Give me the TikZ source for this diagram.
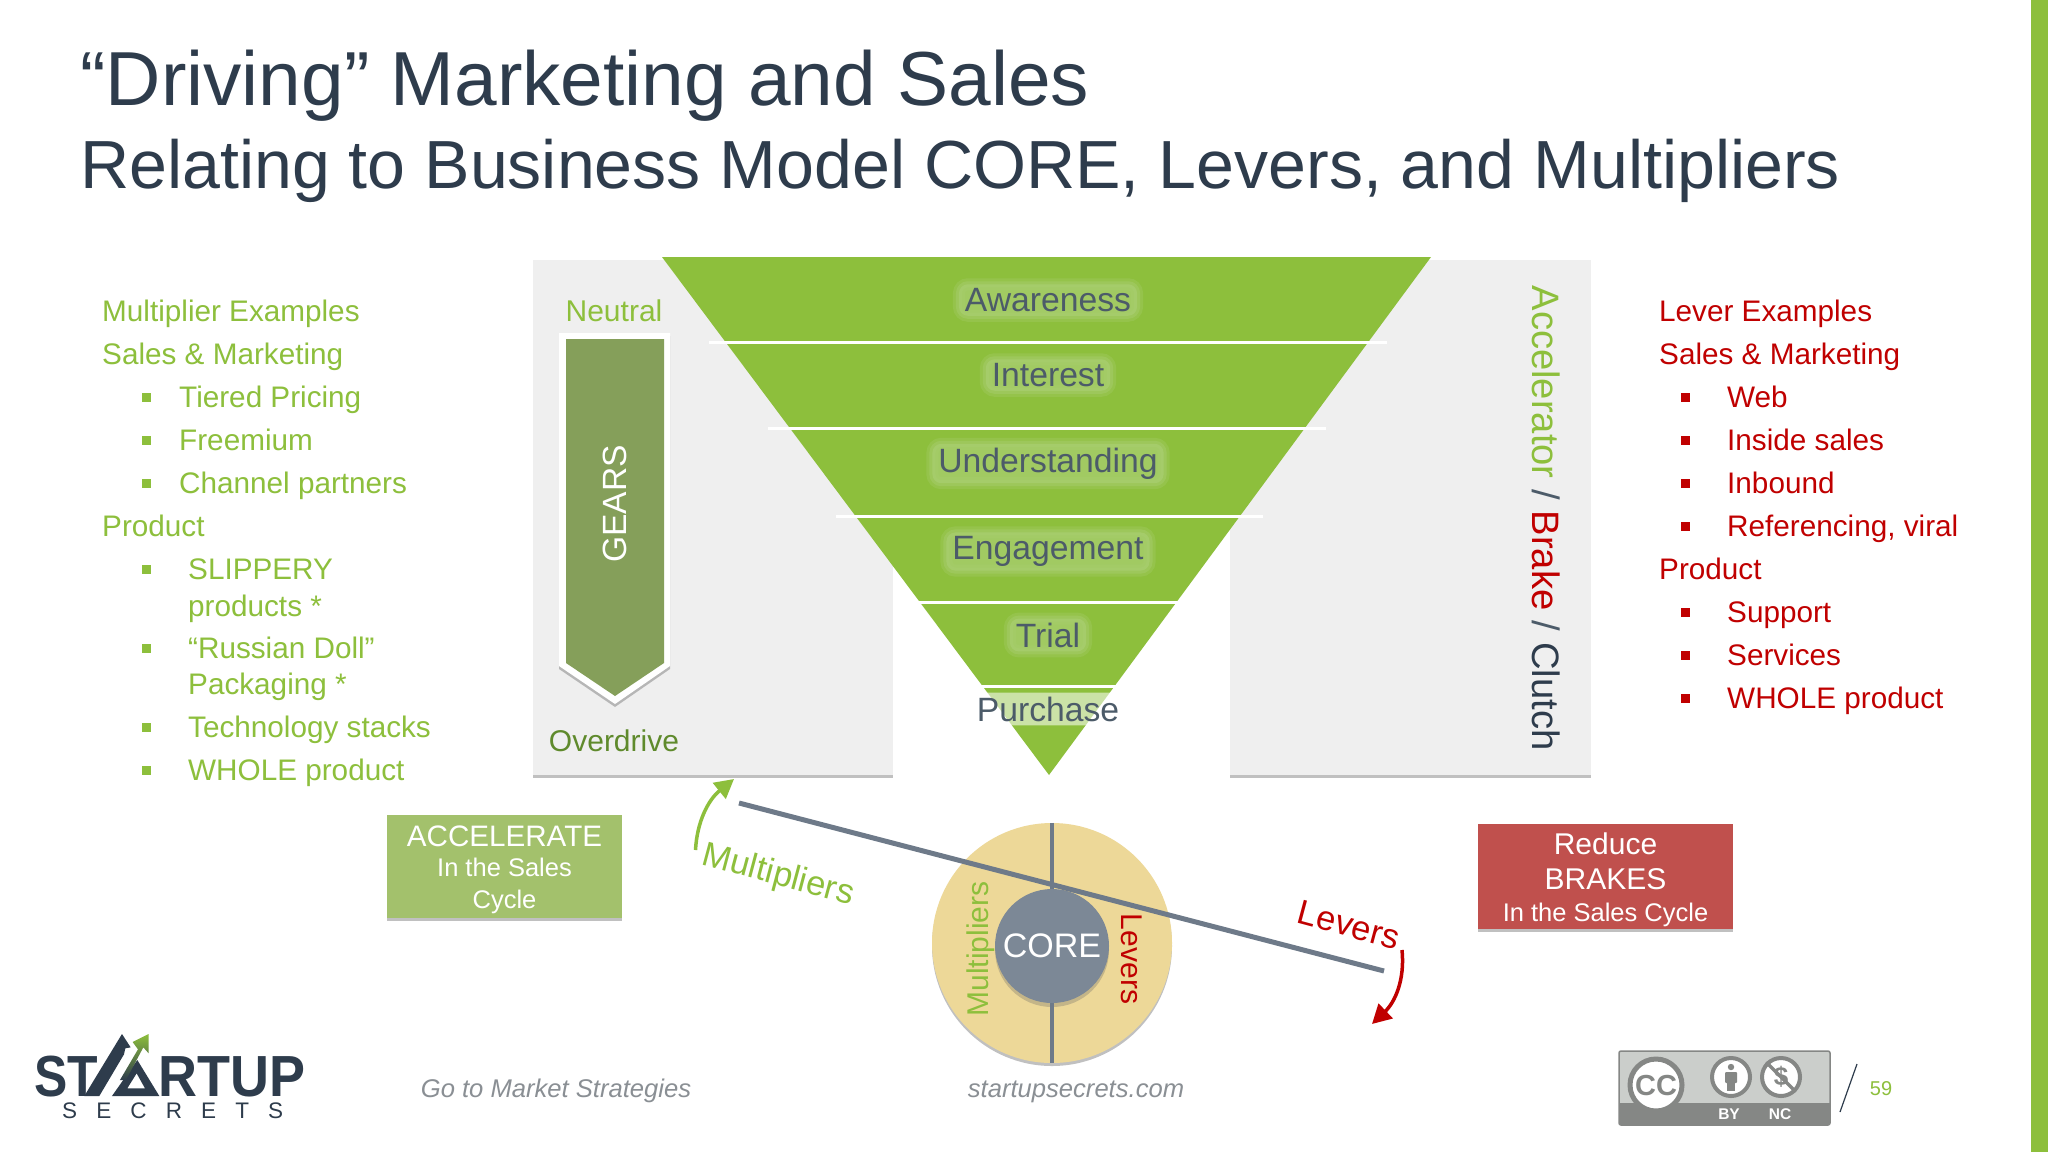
\documentclass[tikz,border=0pt]{standalone}
\usepackage{fontspec}
\setmainfont{Liberation Sans}
\newfontfamily\logofont[LetterSpace=85]{Liberation Sans}
\usetikzlibrary{arrows.meta,shadows,shapes.geometric}
\definecolor{titleink}{HTML}{2E3C4C}
\definecolor{stageink}{HTML}{4C5B69}
\definecolor{mgreen}{HTML}{8DBF3C}
\definecolor{dgreen}{HTML}{5F8A2C}
\definecolor{glowgreen}{HTML}{A8CE70}
\definecolor{lred}{HTML}{C00000}
\definecolor{panelgrey}{HTML}{EFEFEF}
\definecolor{gearolive}{HTML}{859F5A}
\definecolor{beamgrey}{HTML}{6E7A89}
\definecolor{ringsand}{HTML}{EDD898}
\definecolor{coregrey}{HTML}{7C8896}
\definecolor{accgreen}{HTML}{A3C16C}
\definecolor{brakered}{HTML}{C0504D}
\definecolor{footgrey}{HTML}{8A8F94}
\definecolor{badgelight}{HTML}{CBCECB}
\definecolor{badgedark}{HTML}{858785}
\newcommand{\fs}[1]{\fontsize{#1}{#1}\selectfont}
\tikzset{
  softshadow/.style={drop shadow={shadow xshift=0pt,shadow yshift=-3pt,opacity=.35,fill=black!70}},
  panel/.style={fill=panelgrey,softshadow},
  sepline/.style={white,line width=3pt},
  stagepale/.style={text=stageink,font=\fs{33.7},text opacity=1,rounded corners=9pt,inner xsep=6pt,inner ysep=4pt},
  stage/.style={stagepale,fill=glowgreen,fill opacity=.75,
    preaction={draw=glowgreen,draw opacity=.3,line width=12pt},preaction={draw=glowgreen,draw opacity=.45,line width=6pt}},
  listg/.style={anchor=base west,inner sep=0pt,text=mgreen,font=\fs{29.7}},
  listr/.style={anchor=base west,inner sep=0pt,text=lred,font=\fs{29.7}},
  sqbullet/.style={minimum size=9pt,inner sep=0pt},
  salesbox/.style={minimum width=235pt,align=center,text=white,font=\fs{25.5},softshadow},
  levertext/.style={font=\fs{34.5},inner sep=0pt},
  ringtext/.style={font=\fs{30},inner sep=0pt},
  foot/.style={anchor=base,inner sep=0pt,text=footgrey,font=\itshape\fs{25.6}}
}
\begin{document}
\begin{tikzpicture}[x=1pt,y=-1pt]
  \useasboundingbox (0,0) rectangle (2048,1152);
  \fill[white] (0,0) rectangle (2048,1152);
  \fill[mgreen] (2031,0) rectangle (2048,1152);

  \node[anchor=base west,inner sep=0pt,text=titleink,font=\fs{76.6}] (title) at (80,105) {“Driving” Marketing and Sales};
  \node[anchor=base west,inner sep=0pt,text=titleink,font=\fs{68.1}] (subtitle) at (80,188) {Relating to Business Model CORE, Levers, and Multipliers};

  % panels and funnel
  \fill[panel] (533,260) rectangle (893,775);
  \fill[panel] (1230,260) rectangle (1591,775);
  \fill[mgreen] (662,257) -- (1431,257) -- (1049,775) -- cycle;
  \foreach \yy/\xa/\xb in {342/709/1387,428/768/1326,516/836/1263,602/905/1199,686/966/1130}
    \draw[sepline] (\xa,\yy) -- (\xb,\yy);
  \node[stage] (awareness) at (1048,300) {Awareness};
  \node[stage] (interest) at (1048,375) {Interest};
  \node[stage] (understanding) at (1048,463.5) {Understanding};
  \node[stage] (engagement) at (1048,551.5) {Engagement};
  \node[stage] (trial) at (1048,635) {Trial};
  \node[stagepale,fill=white,fill opacity=.55] (purchase) at (1048,709) {Purchase};

  % gears
  \fill[white,softshadow] (559,333) -- (670,333) -- (670,666) -- (615,704) -- (559,666) -- cycle;
  \fill[gearolive] (566,339) -- (664,339) -- (664,663) -- (615,696) -- (566,663) -- cycle;
  \node[rotate=90,text=white,font=\fs{33.6}] (gears) at (615,504) {GEARS};
  \node[text=mgreen,font=\fs{30}] (neutral) at (614,311) {Neutral};
  \node[text=dgreen,font=\fs{30}] (overdrive) at (614,741) {Overdrive};
  \node[rotate=-90,font=\fs{38.2},inner sep=0pt] (pedals) at (1546,518) {\textcolor{mgreen}{Accelerator} \textcolor{stageink}{/} \textcolor{lred}{Brake} \textcolor{stageink}{/} \textcolor{titleink}{Clutch}};

  % multiplier list
  \node[listg] (mhead) at (102,321) {Multiplier Examples};
  \node[listg] (msales) at (102,364) {Sales \& Marketing};
  \node[listg] (mtier) at (179,407) {Tiered Pricing};
  \node[listg] (mfree) at (179,450) {Freemium};
  \node[listg] (mchan) at (179,493) {Channel partners};
  \node[listg] (mprod) at (102,536) {Product};
  \node[listg] (mslip) at (188,579) {SLIPPERY};
  \node[listg] (mslip2) at (188,616) {products *};
  \node[listg] (mdoll) at (188,658) {“Russian Doll”};
  \node[listg] (mdoll2) at (188,694) {Packaging *};
  \node[listg] (mtech) at (188,737) {Technology stacks};
  \node[listg] (mwhole) at (188,780) {WHOLE product};
  \foreach \yy in {397,440,483,569,648,727,770}
    \node[sqbullet,fill=mgreen] (mb\yy) at (146,\yy) {};

  % lever list
  \node[listr] (lhead) at (1659,321) {Lever Examples};
  \node[listr] (lsales) at (1659,364) {Sales \& Marketing};
  \node[listr] (lweb) at (1727,407) {Web};
  \node[listr] (linside) at (1727,450) {Inside sales};
  \node[listr] (linbound) at (1727,493) {Inbound};
  \node[listr] (lrefer) at (1727,536) {Referencing, viral};
  \node[listr] (lprod) at (1659,579) {Product};
  \node[listr] (lsupport) at (1727,622) {Support};
  \node[listr] (lservice) at (1727,665) {Services};
  \node[listr] (lwhole) at (1727,708) {WHOLE product};
  \foreach \yy in {397,440,483,526,612,655,698}
    \node[sqbullet,fill=lred] (lb\yy) at (1685,\yy) {};

  % sales boxes
  \node[salesbox,fill=accgreen,minimum height=103pt,inner ysep=0pt] (accel) at (504.5,866.5) {\rule{0pt}{28pt}{\fs{29.6}ACCELERATE}\\[4.5pt]In the Sales\\[6.5pt]Cycle};
  \node[salesbox,fill=brakered,minimum width=255pt,minimum height=105pt,inner ysep=0pt] (brake) at (1605.5,876.5) {\rule{0pt}{28pt}{\fs{30}Reduce}\\[10pt]{\fs{30}BRAKES}\\[6pt]In the Sales Cycle};

  % core and beam
  \node[circle,fill=ringsand,minimum size=240pt,inner sep=0pt,softshadow] (ring) at (1052,943) {};
  \node[circle,fill=coregrey,minimum size=114pt,inner sep=0pt,text=white,font=\fs{34},
    drop shadow={shadow xshift=0pt,shadow yshift=-4pt,opacity=.3,fill=black!60}] (core) at (1052,946) {CORE};
  \draw[beamgrey,line width=4pt] (ring.north) -- (core.north);
  \draw[beamgrey,line width=4pt] (core.south) -- (ring.south);
  \coordinate (beamleft) at (739,803);
  \coordinate (beamright) at (1384,971);
  \draw[beamgrey,line width=5pt] (beamleft) -- (beamright);
  \node[ringtext,rotate=90,text=mgreen] (ringmult) at (981,949) {Multipliers};
  \node[ringtext,rotate=-90,text=lred] (ringlever) at (1132,959) {Levers};
  \node[levertext,rotate=-15,text=mgreen] (multlabel) at (778,876) {Multipliers};
  \node[levertext,rotate=-15,text=lred] (leverlabel) at (1349,925) {Levers};
  \coordinate (upstart) at (695.5,850);
  \coordinate (uptip) at (734,779);
  \coordinate (downstart) at (1402,950);
  \coordinate (downtip) at (1372,1024);
  \draw[mgreen,line width=3.5pt,-{Triangle[length=19pt,width=20pt]}] (upstart) .. controls (697,822) and (708,800) .. (uptip);
  \draw[lred,line width=3.5pt,-{Triangle[length=19pt,width=20pt]}] (downstart) .. controls (1405,980) and (1395,1002) .. (downtip);

  % footer
  \node[foot] (deck) at (556,1097) {Go to Market Strategies};
  \node[foot] (site) at (1076,1097) {startupsecrets.com};
  \draw[titleink,line width=1.2pt] (1857,1064) -- (1840,1112);
  \node[text=mgreen,font=\fs{20}] (pageno) at (1881,1089) {59};

  % logo
  \begin{scope}[shift={(20,1020)},x=.3333pt,y=-.3333pt]
    \node[anchor=base west,inner sep=0pt,text=titleink,font=\bfseries\fs{58},xscale=.86] (logost) at (42,228) {ST};
    \fill[titleink] (193,228) -- (306,42) -- (332,82) -- (316,85) -- (312,103) -- (238,228) -- cycle;
    \fill[titleink,even odd rule] (276,228) -- (352,120) -- (418,228) -- cycle (322,205) -- (375,205) -- (350,160) -- cycle;
    \shade[top color=mgreen,bottom color=titleink] (300,180) -- (354,88) -- (338,66) -- (386,42) -- (386,100) -- (370,82) -- (318,180) -- cycle;
    \node[anchor=base west,inner sep=0pt,text=titleink,font=\bfseries\fs{58},xscale=.93] (logortup) at (414,228) {RTUP};
    \node[anchor=base west,inner sep=0pt,text=titleink,font=\logofont\fs{22.5}] (logosecrets) at (126,295) {SECRETS};
  \end{scope}

  % licence badge
  \fill[badgelight,rounded corners=2pt] (1619,1051) rectangle (1830,1125);
  \fill[badgedark] (1619,1103) rectangle (1830,1125);
  \draw[badgedark,line width=1.5pt,rounded corners=2pt] (1619,1051) rectangle (1830,1125);
  \node[circle,fill=white,draw=badgedark,line width=5pt,minimum size=52pt,inner sep=0pt,text=badgedark,font=\bfseries\fs{29}] (ccmark) at (1656,1085) {CC};
  \node[circle,fill=white,draw=badgedark,line width=4pt,minimum size=38pt,inner sep=0pt] (bymark) at (1731,1077) {};
  \node[circle,fill=white,draw=badgedark,line width=4pt,minimum size=38pt,inner sep=0pt,text=badgedark,font=\bfseries\fs{26}] (ncmark) at (1781,1077) {\$};
  \draw[badgedark,line width=3.5pt] (ncmark.north west) -- (ncmark.south east);
  \fill[badgedark] (1731,1067) circle (3.2pt);
  \fill[badgedark,rounded corners=1pt] (1725,1072) rectangle (1737,1083);
  \fill[badgedark] (1727,1083) rectangle (1735,1091);
  \node[text=white,font=\bfseries\fs{15.5},inner sep=0pt] (bytext) at (1729,1114) {BY};
  \node[text=white,font=\bfseries\fs{15.5},inner sep=0pt] (nctext) at (1780,1114) {NC};
\end{tikzpicture}
\end{document}
